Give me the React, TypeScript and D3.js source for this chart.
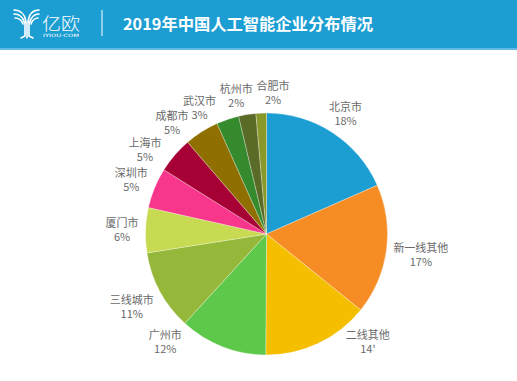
import React from "react";
import * as d3 from "d3";

const categories = ["北京市", "新一线其他", "二线其他", "广州市", "三线城市", "厦门市", "深圳市", "上海市", "成都市", "武汉市", "杭州市", "合肥市"];
const shares = [18.4, 17.4, 14.3, 11.7, 10.7, 6.0, 5.4, 4.8, 4.6, 3.0, 2.3, 1.4];
const shareLabels = ["18%", "17%", "14'", "12%", "11%", "6%", "5%", "5%", "5%", "3%", "2%", "2%"];
const colors = ["#1d9ed3", "#f68d24", "#f5bf00", "#5ec84b", "#95b83b", "#c8d952", "#f8368b", "#a60034", "#8f6f00", "#348a2c", "#5a6a27", "#899828"];

const W = 517, H = 381;
const cx = 266.5, cy = 234, R = 121;
const FS = 11;
const LH = 28;
const GAP = 7;
const MAXY = 341;

function edgeDist(a: number, w: number, h: number) {
  const s = Math.abs(Math.sin(a)), c = Math.abs(Math.cos(a));
  const e1 = s > 1e-6 ? (w / 2) / s : 1e9;
  const e2 = c > 1e-6 ? (h / 2) / c : 1e9;
  return Math.min(e1, e2);
}

function labelPos(a: number, w: number) {
  const D = R + GAP + edgeDist(a, w, LH);
  return { x: cx + D * Math.sin(a), y: cy - D * Math.cos(a) };
}

type Box = { x0: number; x1: number; y0: number; y1: number };
function rowBoxes(x: number, y: number, wn: number, wp: number): Box[] {
  return [
    { x0: x - wn / 2, x1: x + wn / 2, y0: y - 12, y1: y },
    { x0: x - wp / 2, x1: x + wp / 2, y0: y + 2, y1: y + 14 },
  ];
}
function overlaps(a: Box[], b: Box[], m: number) {
  for (const p of a) for (const q of b) {
    if (p.x0 < q.x1 + m && q.x0 < p.x1 + m && p.y0 < q.y1 + m && q.y0 < p.y1 + m) return true;
  }
  return false;
}

export default function App() {
  const pie = d3.pie<number>().sort(null).value((d) => d)(shares);
  const arc = d3.arc<d3.PieArcDatum<number>>().innerRadius(0).outerRadius(R);

  const widths = categories.map((c) => c.length * FS);
  const pctW = shareLabels.map((s) => s.length * 7);
  const angles = pie.map((p) => (p.startAngle + p.endAngle) / 2);
  const n = angles.length;

  for (let it = 0; it < 3000; it++) {
    let moved = false;
    for (let i = 0; i < n; i++) {
      for (const step of [1, 2]) {
        const j = (i + step) % n;
        const p1 = labelPos(angles[i], widths[i]);
        const p2 = labelPos(angles[j], widths[j]);
        if (overlaps(rowBoxes(p1.x, p1.y, widths[i], pctW[i]), rowBoxes(p2.x, p2.y, widths[j], pctW[j]), 3.5)) {
          angles[i] -= 0.003;
          angles[j] += 0.0015;
          moved = true;
        }
      }
    }
    if (!moved) break;
  }

  const labels = categories.map((c, i) => {
    let a = angles[i];
    let p = labelPos(a, widths[i]);
    if (p.y > MAXY) {
      const dir = Math.sin(a) >= 0 ? -1 : 1;
      let k = 0;
      while (p.y > MAXY && k < 400) {
        a += dir * 0.002;
        p = labelPos(a, widths[i]);
        k++;
      }
    }
    return { name: c, pct: shareLabels[i], x: p.x, y: p.y };
  });

  return (
    <svg width={W} height={H} style={{ position: "absolute", left: 0, top: 0, display: "block" }}>
      <rect x={0} y={0} width={W} height={H} fill="#ffffff" />
      <rect x={0} y={0} width={W} height={50} fill="#5fb9e3" />
      <rect x={0} y={0} width={W} height={48} fill="#1d9ed3" />
      <g fill="none" stroke="#ffffff" strokeWidth={1.6} strokeLinecap="round">
        <path d="M14,10 C20,10 25,14 26,22" />
        <path d="M14,14 C19,14 23,17 24.5,23" />
        <path d="M15,18 C18.5,18 21.5,20 23,24" />
        <path d="M39,10 C33,10 29,14 28,22" />
        <path d="M39,14 C34,14 31,17 29.5,23" />
        <path d="M38,18 C35,18 32.5,20 31,24" />
        <path d="M25,22 L25,36 L21,38" />
        <path d="M29,22 L29,36 L33,38" />
        <path d="M27,22 L27,38" />
      </g>
      <text x={42} y={29.5} fill="#ffffff" fontFamily="'Noto Sans CJK SC', sans-serif" fontWeight={300} fontSize={16.5} textLength={38} lengthAdjust="spacingAndGlyphs">亿欧</text>
      <text x={43} y={37} fill="#ffffff" fontFamily="'DejaVu Sans', sans-serif" fontSize={4.5} textLength={36} lengthAdjust="spacingAndGlyphs">IYIOU·COM</text>
      <line x1={102} y1={10} x2={102} y2={36} stroke="#ffffff" strokeWidth={1} />
      <text x={123} y={30} fill="#ffffff" fontFamily="'Noto Sans CJK SC', sans-serif" fontWeight={700} fontSize={16} textLength={250} lengthAdjust="spacingAndGlyphs">2019年中国人工智能企业分布情况</text>

      <g transform={`translate(${cx},${cy})`}>
        {pie.map((p, i) => (
          <path key={i} d={arc(p) || ""} fill={colors[i]} stroke="#ffffff" strokeWidth={0.3} />
        ))}
      </g>
      <g fontFamily="'Noto Sans CJK SC', sans-serif" fontSize={FS} fill="#6a6a6a" textAnchor="middle">
        {labels.map((l, i) => (
          <text key={i} x={l.x} y={l.y - 2}>
            <tspan x={l.x} dy={0}>{l.name}</tspan>
            <tspan x={l.x} dy={14}>{l.pct}</tspan>
          </text>
        ))}
      </g>
    </svg>
  );
}
